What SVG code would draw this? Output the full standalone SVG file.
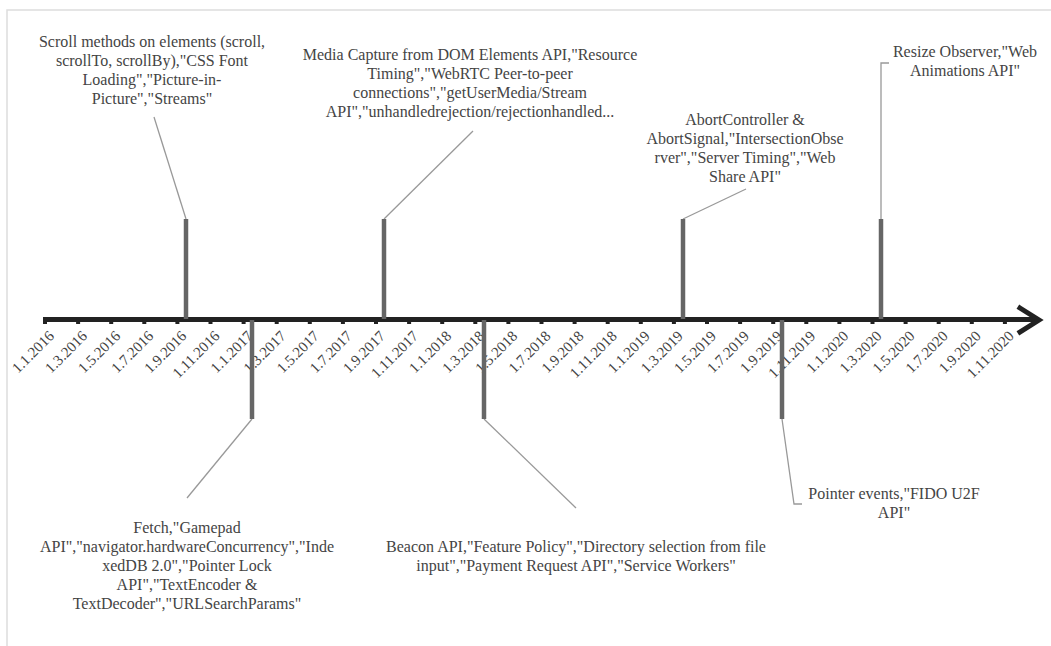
<svg xmlns="http://www.w3.org/2000/svg" width="1051" height="646" viewBox="0 0 1051 646">
<style>
.frame{stroke:#dddddd;stroke-width:1.5;fill:none}
.axis{stroke:#222222;stroke-width:5;fill:none}
.tick{fill:#222222}
.bar{stroke:#666666;stroke-width:4.5}
.conn{stroke:#999999;stroke-width:1.3;fill:none}
.lbl{font-size:15px;fill:#444444;text-anchor:end}
.txt{font-size:16px;fill:#444444;text-anchor:middle}
</style>
<rect width="1051" height="646" fill="#ffffff"/>
<path class="frame" d="M7,646 V10 H1051"/>
<g id="axis">
<line class="axis" x1="43" y1="319.5" x2="1038" y2="319.5"/>
<path class="axis" d="M1020,308 L1039,320 L1020,332" stroke-linecap="square"/>
<g id="ticks">
<rect class="tick" x="43" y="319" width="4" height="5"/>
<rect class="tick" x="76.1" y="319" width="4" height="5"/>
<rect class="tick" x="109.2" y="319" width="4" height="5"/>
<rect class="tick" x="142.3" y="319" width="4" height="5"/>
<rect class="tick" x="175.4" y="319" width="4" height="5"/>
<rect class="tick" x="208.5" y="319" width="4" height="5"/>
<rect class="tick" x="241.6" y="319" width="4" height="5"/>
<rect class="tick" x="274.7" y="319" width="4" height="5"/>
<rect class="tick" x="307.8" y="319" width="4" height="5"/>
<rect class="tick" x="340.9" y="319" width="4" height="5"/>
<rect class="tick" x="374" y="319" width="4" height="5"/>
<rect class="tick" x="407.1" y="319" width="4" height="5"/>
<rect class="tick" x="440.2" y="319" width="4" height="5"/>
<rect class="tick" x="473.3" y="319" width="4" height="5"/>
<rect class="tick" x="506.4" y="319" width="4" height="5"/>
<rect class="tick" x="539.5" y="319" width="4" height="5"/>
<rect class="tick" x="572.6" y="319" width="4" height="5"/>
<rect class="tick" x="605.7" y="319" width="4" height="5"/>
<rect class="tick" x="638.8" y="319" width="4" height="5"/>
<rect class="tick" x="671.9" y="319" width="4" height="5"/>
<rect class="tick" x="705" y="319" width="4" height="5"/>
<rect class="tick" x="738.1" y="319" width="4" height="5"/>
<rect class="tick" x="771.2" y="319" width="4" height="5"/>
<rect class="tick" x="804.3" y="319" width="4" height="5"/>
<rect class="tick" x="837.4" y="319" width="4" height="5"/>
<rect class="tick" x="870.5" y="319" width="4" height="5"/>
<rect class="tick" x="903.6" y="319" width="4" height="5"/>
<rect class="tick" x="936.7" y="319" width="4" height="5"/>
<rect class="tick" x="969.8" y="319" width="4" height="5"/>
<rect class="tick" x="1002.9" y="319" width="4" height="5"/>
</g>
<g id="tick-labels" font-family="'Liberation Serif', serif">
<text class="lbl" transform="translate(55,337) rotate(-45)">1.1.2016</text>
<text class="lbl" transform="translate(88.1,337) rotate(-45)">1.3.2016</text>
<text class="lbl" transform="translate(121.2,337) rotate(-45)">1.5.2016</text>
<text class="lbl" transform="translate(154.3,337) rotate(-45)">1.7.2016</text>
<text class="lbl" transform="translate(187.4,337) rotate(-45)">1.9.2016</text>
<text class="lbl" transform="translate(220.5,337) rotate(-45)">1.11.2016</text>
<text class="lbl" transform="translate(253.6,337) rotate(-45)">1.1.2017</text>
<text class="lbl" transform="translate(286.7,337) rotate(-45)">1.3.2017</text>
<text class="lbl" transform="translate(319.8,337) rotate(-45)">1.5.2017</text>
<text class="lbl" transform="translate(352.9,337) rotate(-45)">1.7.2017</text>
<text class="lbl" transform="translate(386,337) rotate(-45)">1.9.2017</text>
<text class="lbl" transform="translate(419.1,337) rotate(-45)">1.11.2017</text>
<text class="lbl" transform="translate(452.2,337) rotate(-45)">1.1.2018</text>
<text class="lbl" transform="translate(485.3,337) rotate(-45)">1.3.2018</text>
<text class="lbl" transform="translate(518.4,337) rotate(-45)">1.5.2018</text>
<text class="lbl" transform="translate(551.5,337) rotate(-45)">1.7.2018</text>
<text class="lbl" transform="translate(584.6,337) rotate(-45)">1.9.2018</text>
<text class="lbl" transform="translate(617.7,337) rotate(-45)">1.11.2018</text>
<text class="lbl" transform="translate(650.8,337) rotate(-45)">1.1.2019</text>
<text class="lbl" transform="translate(683.9,337) rotate(-45)">1.3.2019</text>
<text class="lbl" transform="translate(717,337) rotate(-45)">1.5.2019</text>
<text class="lbl" transform="translate(750.1,337) rotate(-45)">1.7.2019</text>
<text class="lbl" transform="translate(783.2,337) rotate(-45)">1.9.2019</text>
<text class="lbl" transform="translate(816.3,337) rotate(-45)">1.11.2019</text>
<text class="lbl" transform="translate(849.4,337) rotate(-45)">1.1.2020</text>
<text class="lbl" transform="translate(882.5,337) rotate(-45)">1.3.2020</text>
<text class="lbl" transform="translate(915.6,337) rotate(-45)">1.5.2020</text>
<text class="lbl" transform="translate(948.7,337) rotate(-45)">1.7.2020</text>
<text class="lbl" transform="translate(981.8,337) rotate(-45)">1.9.2020</text>
<text class="lbl" transform="translate(1014.9,337) rotate(-45)">1.11.2020</text>
</g>
</g>
<g id="connectors">
<line class="conn" x1="186" y1="219" x2="154" y2="117"/>
<line class="conn" x1="252" y1="419" x2="187" y2="498"/>
<line class="conn" x1="384" y1="219" x2="473" y2="131"/>
<line class="conn" x1="484" y1="419" x2="576" y2="508"/>
<line class="conn" x1="683" y1="219" x2="746" y2="189"/>
<polyline class="conn" points="782,419 794,504 802,504"/>
<polyline class="conn" points="881,219 881,63 889,63"/>
</g>
<g id="events" font-family="'Liberation Serif', serif">
<g id="event-2016-10">
<line class="bar" x1="186" y1="219" x2="186" y2="319"/>
<text class="txt"><tspan x="152" y="47">Scroll methods on elements (scroll,</tspan><tspan x="152" y="66">scrollTo, scrollBy),"CSS Font</tspan><tspan x="152" y="85">Loading","Picture-in-</tspan><tspan x="152" y="104">Picture","Streams"</tspan></text>
</g>
<g id="event-2017-01">
<line class="bar" x1="252" y1="320" x2="252" y2="419"/>
<text class="txt"><tspan x="187" y="533">Fetch,"Gamepad</tspan><tspan x="187" y="552">API","navigator.hardwareConcurrency","Inde</tspan><tspan x="187" y="571">xedDB 2.0","Pointer Lock</tspan><tspan x="187" y="590">API","TextEncoder &amp;</tspan><tspan x="187" y="609">TextDecoder","URLSearchParams"</tspan></text>
</g>
<g id="event-2017-09">
<line class="bar" x1="384" y1="219" x2="384" y2="319"/>
<text class="txt"><tspan x="470" y="60">Media Capture from DOM Elements API,"Resource</tspan><tspan x="470" y="79">Timing","WebRTC Peer-to-peer</tspan><tspan x="470" y="98">connections","getUserMedia/Stream</tspan><tspan x="470" y="117">API","unhandledrejection/rejectionhandled...</tspan></text>
</g>
<g id="event-2018-03">
<line class="bar" x1="484" y1="320" x2="484" y2="419"/>
<text class="txt"><tspan x="576" y="552">Beacon API,"Feature Policy","Directory selection from file</tspan><tspan x="576" y="571">input","Payment Request API","Service Workers"</tspan></text>
</g>
<g id="event-2019-03">
<line class="bar" x1="683" y1="219" x2="683" y2="319"/>
<text class="txt"><tspan x="745" y="125">AbortController &amp;</tspan><tspan x="745" y="144">AbortSignal,"IntersectionObse</tspan><tspan x="745" y="163">rver","Server Timing","Web</tspan><tspan x="745" y="182">Share API"</tspan></text>
</g>
<g id="event-2019-10">
<line class="bar" x1="782" y1="320" x2="782" y2="419"/>
<text class="txt"><tspan x="894" y="499">Pointer events,"FIDO U2F</tspan><tspan x="894" y="518">API"</tspan></text>
</g>
<g id="event-2020-03">
<line class="bar" x1="881" y1="219" x2="881" y2="319"/>
<text class="txt"><tspan x="965" y="57">Resize Observer,"Web</tspan><tspan x="965" y="76">Animations API"</tspan></text>
</g>
</g>
</svg>
